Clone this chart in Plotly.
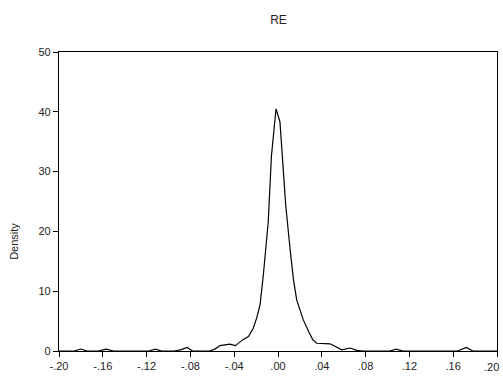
import plotly.graph_objects as go

# Kernel density estimate of RE
re_x = [-0.200, -0.186, -0.180, -0.174, -0.164, -0.157, -0.150, -0.118, -0.112, -0.106,
        -0.095, -0.089, -0.083, -0.078, -0.062, -0.057, -0.053, -0.048, -0.044, -0.039,
        -0.035, -0.032, -0.027, -0.0226, -0.0195, -0.0164, -0.0134, -0.011, -0.0089, -0.006,
        -0.0018, 0.0018, 0.0070, 0.011, 0.014, 0.017, 0.0216, 0.0231, 0.0286, 0.0317,
        0.0353, 0.0475, 0.052, 0.0582, 0.0658, 0.072, 0.078, 0.102, 0.108, 0.114,
        0.164, 0.172, 0.178, 0.200]
re_density = [0.0, 0.0, 0.33, 0.0, 0.0, 0.3, 0.0, 0.0, 0.3, 0.0,
              0.0, 0.2, 0.6, 0.0, 0.0, 0.4, 0.9, 1.05, 1.15, 0.9,
              1.5, 1.9, 2.4, 3.8, 5.5, 7.7, 12.7, 17.1, 21.6, 32.6,
              40.5, 38.3, 24.5, 17.1, 12.1, 8.6, 6.3, 5.2, 3.0, 1.9,
              1.3, 1.2, 0.8, 0.2, 0.5, 0.1, 0.0, 0.0, 0.3, 0.0,
              0.0, 0.6, 0.0, 0.0]

x_ticks = [-0.20, -0.16, -0.12, -0.08, -0.04, 0.00, 0.04, 0.08, 0.12, 0.16, 0.20]
x_tick_labels = ["-.20", "-.16", "-.12", "-.08", "-.04", ".00", ".04", ".08", ".12", ".16", ".20"]
y_ticks = [0, 10, 20, 30, 40, 50]

font_family = "Liberation Sans, Arial, sans-serif"
tick_font = dict(family=font_family, size=11, color="#222")

fig = go.Figure()
fig.add_trace(go.Scatter(
    x=re_x, y=re_density, mode="lines",
    line=dict(color="black", width=1.2),
    showlegend=False, hoverinfo="skip",
))

axis_common = dict(
    showline=True, linecolor="black", linewidth=1.3, mirror=True,
    ticks="outside", ticklen=5, tickwidth=1, tickcolor="black",
    showgrid=False, zeroline=False,
    tickfont=tick_font,
)

# The last x label would overflow the page edge; draw it as an annotation kept inside the page
shown_labels = x_tick_labels[:-1] + [""]

fig.update_layout(
    width=503, height=377,
    margin=dict(l=59, r=5, t=52, b=23),
    paper_bgcolor="white", plot_bgcolor="white",
    title=dict(text="RE", x=(59 + 498) / 2 / 503, xanchor="center",
               y=1 - 20 / 377, yanchor="middle",
               font=dict(family=font_family, size=12, color="#222")),
    xaxis=dict(range=[-0.2, 0.2], tickvals=x_ticks, ticktext=shown_labels, **axis_common),
    yaxis=dict(range=[0, 50], tickvals=y_ticks, **axis_common),
    annotations=[
        dict(text="Density", xref="paper", yref="paper",
             x=-(59 - 14) / 439, y=(353 - 243) / 301,
             xanchor="center", yanchor="middle", textangle=-90, showarrow=False,
             font=dict(family=font_family, size=11, color="#222")),
        dict(text=x_tick_labels[-1], xref="paper", yref="paper",
             x=1, xshift=4, y=0, yshift=-8,
             xanchor="right", yanchor="top", showarrow=False,
             font=tick_font),
    ],
)

fig.write_html("out.html")
